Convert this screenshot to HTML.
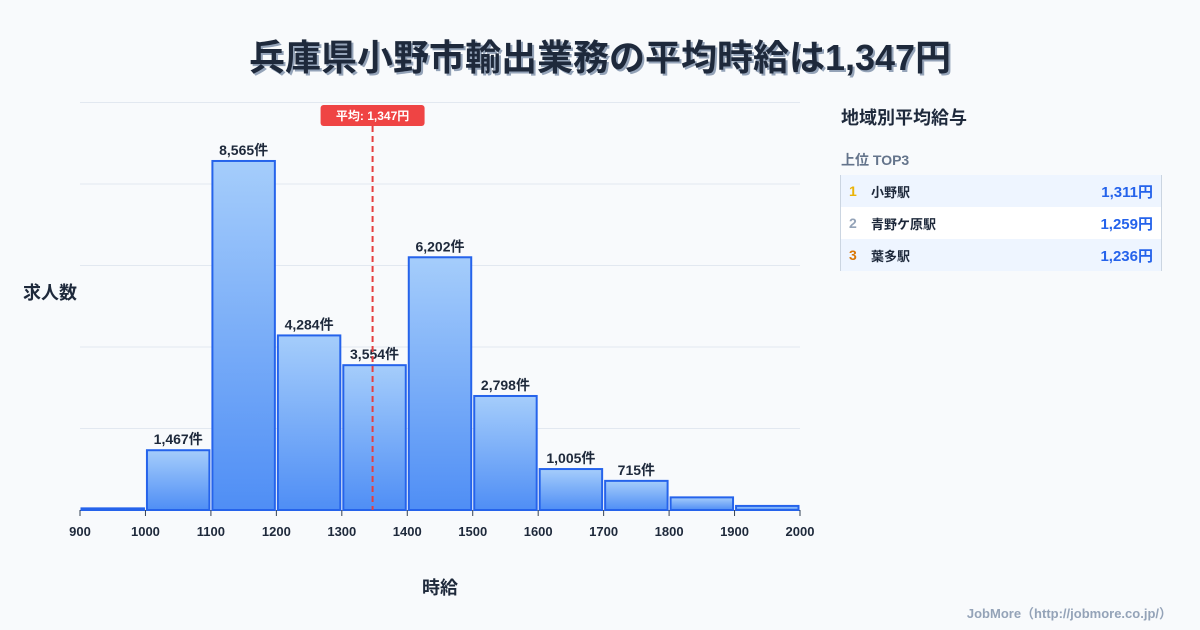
<!DOCTYPE html>
<html><head><meta charset="utf-8"><style>
body{margin:0;width:1200px;height:630px;background:#f8fafc;font-family:"Liberation Sans","Noto Sans CJK JP",sans-serif;position:relative;overflow:hidden;color:#1e293b}
.abs{position:absolute}
</style></head><body>
<div class="abs" style="left:0;width:1200px;top:29px;text-align:center;font-size:36px;font-weight:bold;color:#1e293b;text-shadow:2px 2px 0 #94a3b8">兵庫県小野市輸出業務の平均時給は1,347円</div>
<svg class="abs" style="left:0;top:0" width="1200" height="630">
<defs><linearGradient id="g" x1="0" y1="0" x2="0" y2="1"><stop offset="0" stop-color="#a5cdfb"/><stop offset="1" stop-color="#4f8ef5"/></linearGradient></defs>
<g id="grid"></g><g id="bars"></g><g id="axis"></g><g id="avg"></g>
<text x="50" y="299" font-size="18" font-weight="bold" fill="#1e293b" text-anchor="middle">求人数</text>
<text x="440" y="594" font-size="18" font-weight="bold" fill="#1e293b" text-anchor="middle">時給</text>
</svg>
<div class="abs" style="left:841px;top:104px;font-size:18px;font-weight:bold">地域別平均給与</div>
<div class="abs" style="left:841px;top:150px;font-size:14px;font-weight:bold;color:#64748b">上位 TOP3</div>
<div class="abs" style="left:840px;top:175px;width:320px;border-left:1px solid #cbd5e1;border-right:1px solid #cbd5e1;font-size:13px;font-weight:bold">
<div style="height:32px;background:#eef5ff;display:flex;align-items:center;padding:0 8px"><span style="color:#eab308;width:22px;font-size:14px">1</span><span style="flex:1">小野駅</span><span style="color:#2563eb;font-size:15px">1,311円</span></div>
<div style="height:32px;background:#fff;display:flex;align-items:center;padding:0 8px"><span style="color:#94a3b8;width:22px;font-size:14px">2</span><span style="flex:1">青野ケ原駅</span><span style="color:#2563eb;font-size:15px">1,259円</span></div>
<div style="height:32px;background:#eef5ff;display:flex;align-items:center;padding:0 8px"><span style="color:#d97706;width:22px;font-size:14px">3</span><span style="flex:1">葉多駅</span><span style="color:#2563eb;font-size:15px">1,236円</span></div>
</div>
<div class="abs" style="right:28px;top:603px;font-size:13px;font-weight:bold;color:#94a3b8">JobMore（http://jobmore.co.jp/）</div>
<script>
const binStarts=[900,1000,1100,1200,1300,1400,1500,1600,1700,1800,1900];
const counts=[40,1467,8565,4284,3554,6202,2798,1005,715,310,100];
const labels=["","1,467件","8,565件","4,284件","3,554件","6,202件","2,798件","1,005件","715件","",""];
const xTicks=[900,1000,1100,1200,1300,1400,1500,1600,1700,1800,1900,2000];
const yGrid=[0,2000,4000,6000,8000,10000];
const average=1347;
const NS="http://www.w3.org/2000/svg";
const X=v=>80+(v-900)*720/1100;
const Y=v=>510-v*0.04075;
function mk(t,a,p){const e=document.createElementNS(NS,t);for(const k in a)e.setAttribute(k,a[k]);p.appendChild(e);return e;}
const grid=document.getElementById('grid'),bars=document.getElementById('bars'),axis=document.getElementById('axis'),avg=document.getElementById('avg');
yGrid.forEach(v=>{const l=mk('line',{x1:80,x2:800,y1:Y(v),y2:Y(v),stroke:'#e2e8f0','stroke-width':1},grid);

});
binStarts.forEach((b,i)=>{const x0=X(b)+1.5,x1=X(b+100)-1.5,y=Y(counts[i]);
const r=mk('rect',{x:x0,y:y,width:x1-x0,height:510-y,fill:'url(#g)',stroke:'#2563eb','stroke-width':2},bars);


if(labels[i]){const t=mk('text',{x:(x0+x1)/2,y:y-6,'text-anchor':'middle','font-size':14,'font-weight':'bold',fill:'#1e293b'},bars);t.textContent=labels[i];

}});
xTicks.forEach(v=>{mk('line',{x1:X(v),x2:X(v),y1:510,y2:516,stroke:'#334155'},axis);
const t=mk('text',{x:X(v),y:536,'text-anchor':'middle','font-size':13,'font-weight':'bold',fill:'#1e293b'},axis);t.textContent=v;

});
const ax=X(average);
const al=mk('line',{x1:ax,x2:ax,y1:126,y2:510,stroke:'#e53e3e','stroke-width':2,'stroke-dasharray':'6,4'},avg);


mk('rect',{x:ax-52,y:105,width:104,height:21,rx:3,fill:'#ef4444'},avg);
const at=mk('text',{x:ax,y:120,'text-anchor':'middle','font-size':12,'font-weight':'bold',fill:'#fff'},avg);at.textContent='平均: 1,347円';


</script>
</body></html>
